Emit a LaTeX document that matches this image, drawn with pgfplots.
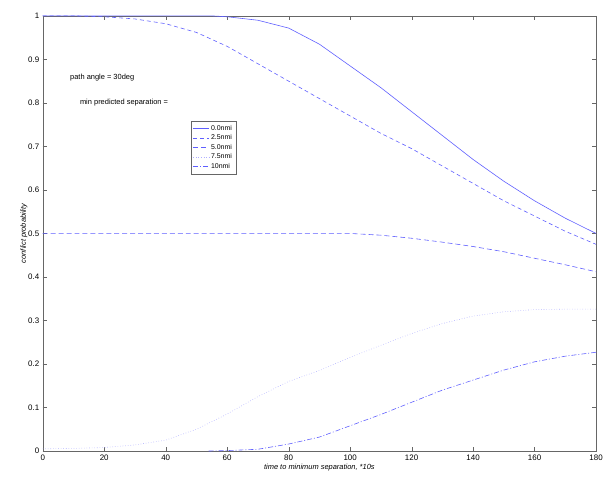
\documentclass[border=0pt]{standalone}
\usepackage{fontspec}
\setmainfont{Liberation Sans}
\usepackage{pgfplots}
\pgfplotsset{compat=1.18}
\definecolor{mblue}{RGB}{95,95,255}
\definecolor{lblue}{RGB}{175,175,255}
\begin{document}
\begin{tikzpicture}
\begin{axis}[
    width=557pt, height=438pt, scale only axis,
    xmin=0, xmax=180, ymin=0, ymax=1,
    xtick={0,20,...,180},
    ytick={0,0.1,...,1},
    tick align=inside,
    major tick length=4pt,
    axis line style={black!60},
    tick style={black!60},
    ticklabel style={font=\fontsize{8}{9}\selectfont},
    /pgf/number format/assume math mode=true,
    xlabel={\itshape time to minimum separation, *10s},
    ylabel={\itshape conflict probability},
    label style={font=\fontsize{7.5}{9}\selectfont},
    xlabel style={yshift=3pt},
    ylabel style={yshift=-6pt},
    legend style={at={(0.2675,0.758)}, anchor=north west, draw=black!60,
        font=\fontsize{7}{8}\selectfont, row sep=-1pt, inner sep=2pt},
    legend cell align=left,
    legend image code/.code={\draw[#1] (0cm,0cm) -- (0.55cm,0cm);},
]
\addplot[mblue, line width=0.6pt, solid] coordinates {
(0,1.0) (20,1.0) (40,1.0) (55,1.0) (60,0.998) (70,0.99) (80,0.972) (90,0.935)
(100,0.885) (110,0.835) (120,0.78) (130,0.725) (140,0.67) (150,0.62)
(160,0.575) (170,0.535) (180,0.50)
};
\addlegendentry{0.0nmi}
\addplot[mblue, line width=0.6pt, dash pattern=on 4pt off 3pt] coordinates {
(0,1.0) (10,1.0) (20,0.998) (30,0.993) (40,0.982) (50,0.962) (60,0.93) (70,0.89)
(80,0.85) (90,0.81) (100,0.77) (110,0.73) (120,0.695) (130,0.655) (140,0.615)
(150,0.575) (160,0.54) (170,0.505) (180,0.475)
};
\addlegendentry{2.5nmi}
\addplot[mblue, line width=0.6pt, dash pattern=on 5pt off 3pt] coordinates {
(0,0.5) (20,0.5) (40,0.5) (60,0.5) (80,0.5) (100,0.5) (110,0.496) (120,0.489)
(130,0.48) (140,0.47) (150,0.458) (160,0.443) (170,0.428) (180,0.412)
};
\addlegendentry{5.0nmi}
\addplot[lblue, line width=0.6pt, dotted] coordinates {
(0,0.005) (10,0.006) (20,0.008) (30,0.014) (40,0.025) (50,0.05) (60,0.085)
(70,0.125) (80,0.16) (90,0.185) (100,0.215) (110,0.243) (120,0.27) (130,0.293)
(140,0.31) (150,0.32) (160,0.325) (170,0.326) (180,0.326)
};
\addlegendentry{7.5nmi}
\addplot[mblue, line width=0.6pt, dash pattern=on 5pt off 2pt on 1pt off 2pt] coordinates {
(54,0) (60,0.001) (70,0.004) (80,0.016) (90,0.032) (100,0.058) (110,0.084)
(120,0.112) (130,0.14) (140,0.163) (150,0.186) (160,0.205) (170,0.218) (180,0.227)
};
\addlegendentry{10nmi}
\node[anchor=west, font=\fontsize{7.5}{9}\selectfont] at (axis cs:7.8,0.858) {path angle = 30deg};
\node[anchor=west, font=\fontsize{7.5}{9}\selectfont] at (axis cs:11,0.80) {min predicted separation =};
\end{axis}
\path (current axis.south west) ++(-43pt,-30pt) rectangle ([shift={(6pt,16pt)}]current axis.north east);
\end{tikzpicture}
\end{document}
